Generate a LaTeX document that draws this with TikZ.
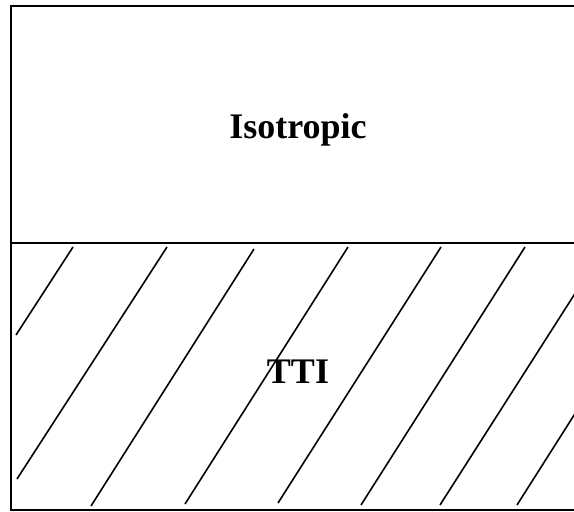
\documentclass[tikz,border=0pt]{standalone}
\usepackage{fontspec}
\setmainfont{Liberation Serif}
\begin{document}
\begin{tikzpicture}[x=1pt,y=-1pt,
    edge/.style={draw=black,line width=2.2pt},
    hatch/.style={draw=black,line width=1.6pt},
    layer/.style={font=\bfseries\fontsize{36}{40}\selectfont,anchor=base}
  ]
  \useasboundingbox (0,0) rectangle (574,512);
  \clip (0,0) rectangle (574,512);
  % outer box, its right side lies beyond the picture
  \draw[edge] (600,6) -- (11,6) -- (11,510) -- (600,510);
  \draw[edge] (11,243) -- (600,243);
  \node[layer] (iso) at (298,138) {Isotropic};
  \node[layer] (tti) at (298,383) {TTI};
  % hatching of the TTI layer
  \foreach \xa/\ya/\xb/\yb in {73/247/16/335, 167/247/17/479, 254/249/91/506,
      348/247/185/504, 441/247/278/503, 525/247/361/505,
      590/270/440/505, 590/390/517/505}
    \draw[hatch] (\xa,\ya) -- (\xb,\yb);
\end{tikzpicture}
\end{document}
